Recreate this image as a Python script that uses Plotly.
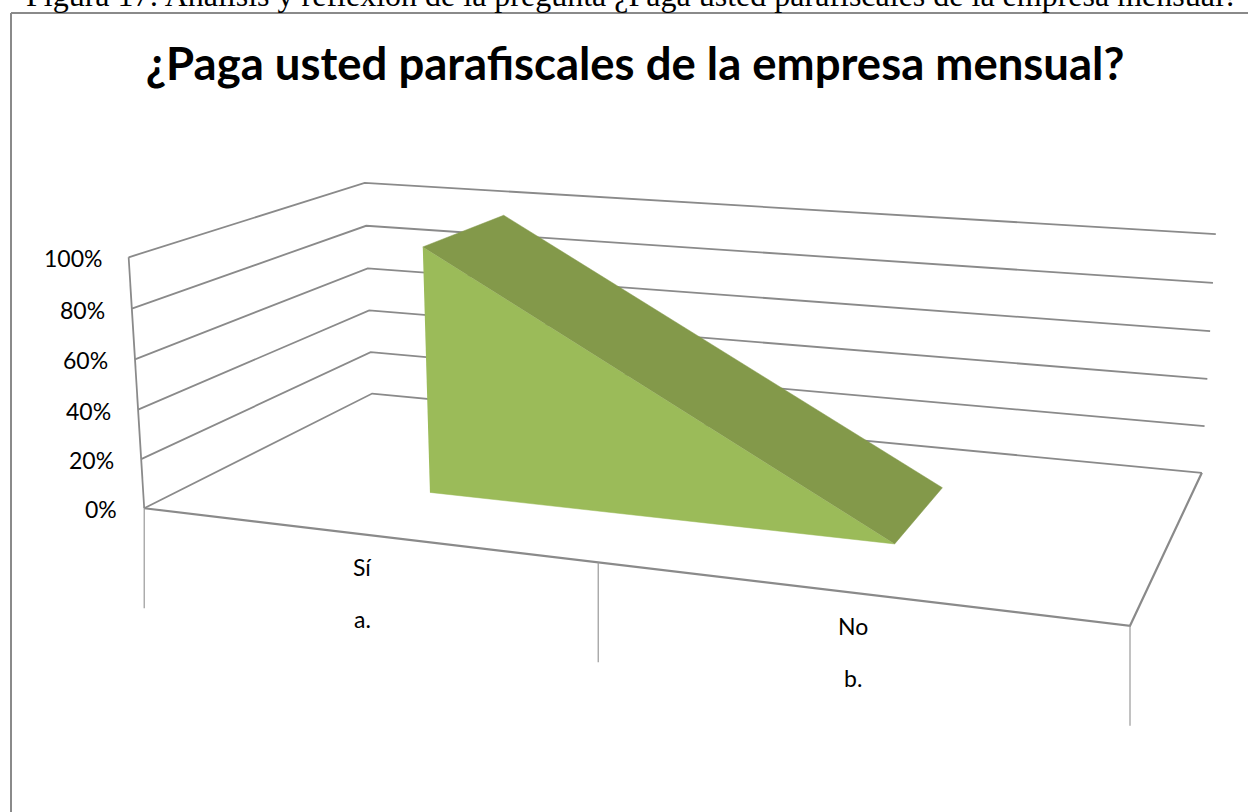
"""
3D area chart drawn on flat axes: values go through a perspective camera, then plotly
"""
import numpy as np
import plotly.graph_objects as go

caption = "Figura 17: Análisis y reflexión de la pregunta ¿Paga usted parafiscales de la empresa mensual?"
title = "¿Paga usted parafiscales de la empresa mensual?"

categories = ["Sí", "No"]
sub_labels = ["a.", "b."]
values = [100, 0]
pct_ticks = [0, 20, 40, 60, 80, 100]
pct_labels = ["0%", "20%", "40%", "60%", "80%", "100%"]
cat_edges = [0, 0.5, 1]
cat_centers = [0.25, 0.75]
series_depth = [0.3, 0.7]

# camera fitted to the picture (rotation about 20 deg, elevation about 14 deg)
CX, CY, SCALE, DIST = 687.064, 369.415, 966.26, 2.283
BOX_D, BOX_H = 0.4955, 0.2608
ROT, ELEV = np.radians(19.844), np.radians(13.927)

GRID = '#8A8A8A'
FRONT = '#9BBB59'
TOP = '#83994A'


def project(x, y, pct):
    """Category position, depth and percent to screen position"""
    p = np.array([x - 0.5, (y - 0.5) * BOX_D, (pct / 100 - 0.5) * BOX_H])
    right = np.array([np.cos(ROT), np.sin(ROT), 0])
    ahead = np.array([-np.sin(ROT), np.cos(ROT), 0])
    d = np.cos(ELEV) * ahead - np.array([0, 0, np.sin(ELEV)])
    u = np.sin(ELEV) * ahead + np.array([0, 0, np.cos(ELEV)])
    k = 1 + p @ d / DIST
    return CX + SCALE * (p @ right) / k, CY - SCALE * (p @ u) / k


def path(points):
    xy = [project(*pt) for pt in points]
    return [a for a, b in xy], [b for a, b in xy]


def add_line(fig, points, width=1.8, color=GRID):
    xs, ys = path(points)
    fig.add_trace(go.Scatter(x=xs, y=ys, mode='lines', line=dict(color=color, width=width), hoverinfo='skip'))


def add_face(fig, points, color):
    xs, ys = path(points)
    fig.add_trace(go.Scatter(x=xs, y=ys, mode='lines', fill='toself', fillcolor=color,
                             line=dict(color=color, width=0.5), hoverinfo='skip'))


fig = go.Figure()

# walls
for pct in pct_ticks:
    add_line(fig, [(0, 0, pct), (0, 1, pct), (1, 1, pct)])
add_line(fig, [(0, 0, 0), (0, 0, 100)])

# floor
add_line(fig, [(0, 0, 0), (1, 0, 0), (1, 1, 0)], width=2.2)

# drop ticks under the category axis
for c in cat_edges:
    sx, sy = project(c, 0, 0)
    fig.add_trace(go.Scatter(x=[sx, sx], y=[sy, sy + 100], mode='lines',
                             line=dict(color='#999999', width=1.2), hoverinfo='skip'))

# area series
x0, x1 = cat_centers
y0, y1 = series_depth
v0, v1 = values
add_face(fig, [(x0, y0, 0), (x1, y0, 0), (x1, y0, v1), (x0, y0, v0)], FRONT)
add_face(fig, [(x0, y0, v0), (x0, y1, v0), (x1, y1, v1), (x1, y0, v1)], TOP)

annotations = []
label_font = dict(family='Lato', size=23, color='black')
for pct, lab in zip(pct_ticks, pct_labels):
    sx, sy = project(0, 0, pct)
    annotations.append(dict(x=sx, y=sy, text=lab, showarrow=False, xanchor='right', xshift=-25, yshift=-1, font=label_font))
for c, cat, sub in zip(cat_centers, categories, sub_labels):
    sx, sy = project(c, 0, 0)
    annotations.append(dict(x=sx, y=sy, text=cat, showarrow=False, yshift=-33, font=label_font))
    annotations.append(dict(x=sx, y=sy, text=sub, showarrow=False, yshift=-85, font=label_font))
annotations.append(dict(x=632, y=15, text=caption, showarrow=False, yanchor='bottom',
                        font=dict(family='Liberation Serif', size=32, color='black')))

fig.update_layout(
    width=1248,
    height=812,
    margin=dict(l=0, r=0, t=0, b=0),
    showlegend=False,
    paper_bgcolor='white',
    plot_bgcolor='white',
    xaxis=dict(range=[0, 1248], visible=False),
    yaxis=dict(range=[812, 0], visible=False),
    title=dict(text=title, x=635 / 1248, xanchor='center', y=1 - 64 / 812, yanchor='middle',
               font=dict(family='Lato', size=45.5, weight=700, color='black')),
    annotations=annotations,
    shapes=[
        dict(type='line', x0=11, x1=11, y0=13, y1=812, line=dict(color=GRID, width=2)),
        dict(type='line', x0=11, x1=1248, y0=13, y1=13, line=dict(color=GRID, width=2)),
    ],
)

fig.write_html("out.html", post_script="document.body.style.margin = '0';",
               config=dict(displayModeBar=False))
